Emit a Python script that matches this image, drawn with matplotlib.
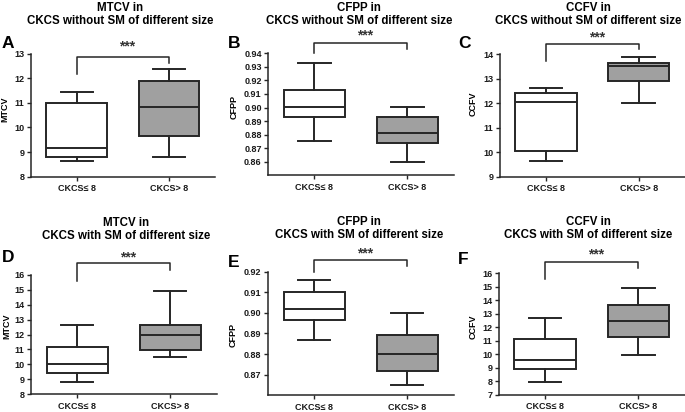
import matplotlib
matplotlib.use('Agg')
import matplotlib.pyplot as plt

plt.rcParams['font.family'] = ['Liberation Sans', 'DejaVu Sans']
plt.rcParams['font.weight'] = 'bold'

# Data (box statistics: one pair per panel, [CKCS<=8, CKCS>8])
letters = ['A', 'B', 'C', 'D', 'E', 'F']
measures = ['MTCV', 'CFPP', 'CCFV', 'MTCV', 'CFPP', 'CCFV']
subtitles = ['CKCS without SM of different size'] * 3 + ['CKCS with SM of different size'] * 3
groups = ['CKCS\u2264 8', 'CKCS> 8']

whisker_low = [[8.62, 8.80], [0.875, 0.860], [9.63, 12.00], [8.84, 10.49], [0.887, 0.865], [7.96, 9.96]]
q1 = [[8.78, 9.66], [0.8933, 0.8738], [10.07, 12.90], [9.41, 10.93], [0.8964, 0.8718], [8.86, 11.25]]
median = [[9.16, 10.85], [0.9003, 0.8812], [12.05, 13.52], [10.04, 12.00], [0.9021, 0.8800], [9.59, 12.44]]
q3 = [[10.98, 11.90], [0.9127, 0.8932], [12.41, 13.66], [11.18, 12.64], [0.9100, 0.8894], [11.13, 13.65]]
whisker_high = [[11.43, 12.38], [0.9332, 0.9001], [12.62, 13.89], [12.64, 14.91], [0.9161, 0.9000], [12.66, 14.91]]

# axis ranges and ticks
ylims = [(8, 13), (0.85, 0.94), (9, 14), (8, 16), (0.86, 0.92), (7, 16)]
yticks = [
    [8, 9, 10, 11, 12, 13],
    [0.86, 0.87, 0.88, 0.89, 0.90, 0.91, 0.92, 0.93, 0.94],
    [9, 10, 11, 12, 13, 14],
    [8, 9, 10, 11, 12, 13, 14, 15, 16],
    [0.87, 0.88, 0.89, 0.90, 0.91, 0.92],
    [7, 8, 9, 10, 11, 12, 13, 14, 15, 16],
]
tick_fmt = ['%d', '%.2f', '%d', '%d', '%.2f', '%d']

# significance brackets: left leg bottom, bar height, right leg bottom, stars
bracket_left = [12.18, 0.9400, 13.74, 15.60, 0.9200, 15.58]
bracket_top = [12.86, 0.9476, 14.44, 16.76, 0.9257, 16.84]
bracket_right = [12.61, 0.9434, 14.20, 16.30, 0.9226, 16.40]
star_y = [13.28, 0.9530, 14.67, 17.15, 0.9288, 17.42]

# layout in pixels
W, H = 685, 412
axes_px = [(30.7, 53.7, 215, 176.6), (268, 53.3, 453.7, 175.3), (499.7, 54.3, 685, 176.7),
           (30.7, 274.7, 216.7, 394.3), (267.7, 271.7, 453.7, 395.3), (498.5, 273.3, 685, 394.5)]
title_x = [120, 359, 588.5, 126, 359, 588.5]
title_y = [(11, 23.5), (11, 23.5), (11, 23.5), (226.5, 239), (225, 237.5), (225, 237.5)]
letter_pos = [(2, 48), (228, 48), (458, 48.5), (2, 262), (228, 267), (458, 264)]
ylabel_pos = [(4.5, 109), (234, 107), (473, 104), (6.7, 326), (233.5, 335), (473, 327)]

line_col = '#262626'
fills = ['white', '#a0a0a0']

fig = plt.figure(figsize=(W / 100, H / 100), dpi=100)


def fx(x):
    return x / W


def fy(y):
    return 1 - y / H


for i in range(6):
    l, t, r, b = axes_px[i]
    ax = fig.add_axes([fx(l), fy(b), (r - l) / W, (b - t) / H])
    stats = []
    for g in range(2):
        stats.append({'whislo': whisker_low[i][g], 'q1': q1[i][g], 'med': median[i][g],
                      'q3': q3[i][g], 'whishi': whisker_high[i][g], 'fliers': []})
    bp = ax.bxp(stats, positions=[1, 2], widths=0.66, capwidths=0.35, patch_artist=True,
                showfliers=False,
                boxprops=dict(edgecolor=line_col, linewidth=1.4),
                medianprops=dict(color=line_col, linewidth=1.4),
                whiskerprops=dict(color=line_col, linewidth=1.4),
                capprops=dict(color=line_col, linewidth=1.4))
    for patch, c in zip(bp['boxes'], fills):
        patch.set_facecolor(c)

    ax.set_xlim(0.5, 2.5)
    ax.set_ylim(*ylims[i])
    ax.set_yticks(yticks[i])
    ax.set_yticklabels([tick_fmt[i] % v for v in yticks[i]])
    ax.set_xticks([1, 2])
    ax.set_xticklabels(groups)
    ax.tick_params(direction='out', length=3, width=1, labelsize=6.5, pad=1.5,
                   colors=line_col, labelcolor='#1a1a1a')
    ax.tick_params(axis='x', pad=2.5)
    for s in ['top', 'right']:
        ax.spines[s].set_visible(False)
    for s in ['left', 'bottom']:
        ax.spines[s].set_linewidth(1.1)
        ax.spines[s].set_color(line_col)

    # significance bracket
    ax.plot([1, 1, 2, 2], [bracket_left[i], bracket_top[i], bracket_top[i], bracket_right[i]],
            color=line_col, linewidth=1.1, clip_on=False)
    ax.text(1.55, star_y[i], '***', ha='center', va='center', fontsize=10,
            color='#333333', clip_on=False)

    # titles, panel letters, y labels
    fig.text(fx(title_x[i]), fy(title_y[i][0]), measures[i] + ' in', ha='center',
             va='baseline', fontsize=8.3)
    fig.text(fx(title_x[i]), fy(title_y[i][1]), subtitles[i], ha='center',
             va='baseline', fontsize=8.3)
    fig.text(fx(letter_pos[i][0]), fy(letter_pos[i][1]), letters[i], ha='left',
             va='baseline', fontsize=12.5)
    fig.text(fx(ylabel_pos[i][0]), fy(ylabel_pos[i][1]), measures[i], ha='center',
             va='center', rotation=90, fontsize=6.5)

fig.savefig('out.png', dpi=100)
